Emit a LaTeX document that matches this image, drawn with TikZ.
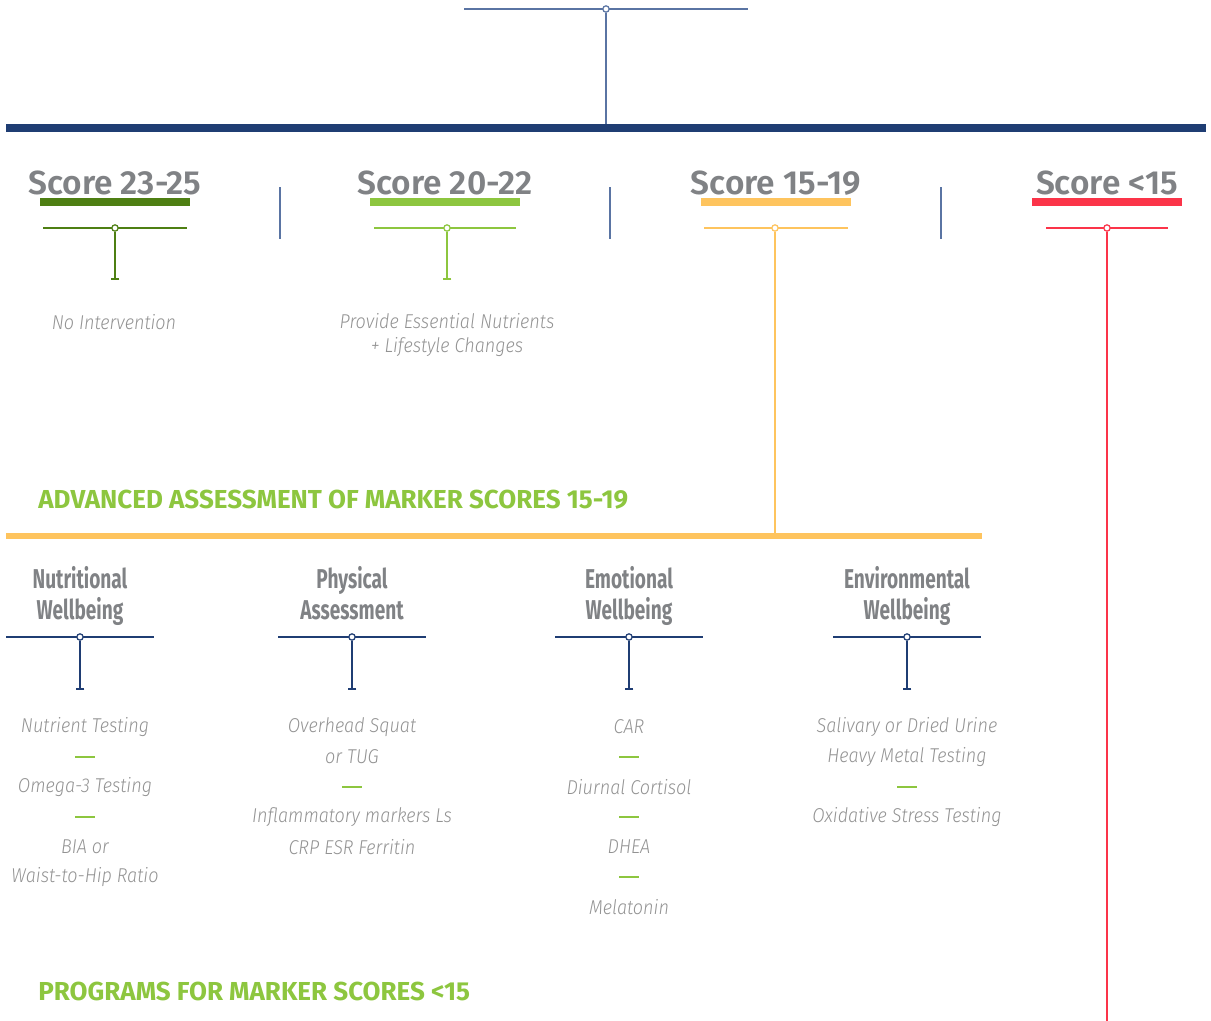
\documentclass[tikz,border=0pt]{standalone}
\usepackage{fontspec}
\setmainfont{Fira Sans}
\newfontfamily\headfont{Fira Sans SemiBold}
\newfontfamily\condfont[FakeStretch=0.7]{Fira Sans}
\newfontfamily\capsfont{Fira Sans}
\newfontfamily\itemfont[FakeStretch=0.9]{Fira Sans Light Italic}
\usetikzlibrary{arrows.meta,positioning}
\definecolor{navy}{HTML}{1F3D73}
\definecolor{slateblue}{HTML}{5A74A3}
\definecolor{headgray}{HTML}{808285}
\definecolor{itemgray}{HTML}{939393}
\definecolor{darkgreen}{HTML}{4E7F13}
\definecolor{lightgreen}{HTML}{8DC63F}
\definecolor{sunyellow}{HTML}{FEC45E}
\definecolor{alertred}{HTML}{FB3449}

\begin{document}
\begin{tikzpicture}[x=0.02cm, y=-0.02cm,
  dot/.style={circle, draw, fill=white, line width=0.7pt, inner sep=0pt, minimum size=3.6pt},
  stem/.style={line width=0.9pt, -{Bar[width=5pt, line width=0.9pt]}},
  score/.style={font=\headfont\fontsize{19}{22}\selectfont, text=headgray, inner sep=0pt},
  cathead/.style={font=\condfont\bfseries\fontsize{15.5}{17.5}\selectfont, text=headgray, align=center, inner sep=0pt, anchor=north},
  item/.style={font=\itemfont\fontsize{11.4}{14}\selectfont, text=itemgray, align=center, inner sep=0pt},
  section/.style={font=\capsfont\bfseries\fontsize{14.8}{17}\selectfont, text=lightgreen, anchor=west, inner sep=0pt},
  sepline/.style={lightgreen, line width=0.8pt}
]
\useasboundingbox (0,0) rectangle (1211,1021);

% top connector and main bar
\draw[slateblue, line width=0.85pt] (464,9) -- (748,9);
\node[dot, draw=slateblue] (top) at (606,9) {};
\coordinate (bartop) at (606,125);
\draw[slateblue, line width=0.9pt] (top) -- (bartop);
\draw[navy, line width=4pt] (6,128) -- (1206,128);

% score headers
\foreach \x/\w/\c/\t/\n in {115/72/darkgreen/23-25/a, 445/71/lightgreen/20-22/b, 776/72/sunyellow/15-19/c, 1107/61/alertred/<15/d} {
  \node[score] (s\n) at (\x,183) {Score \t};
  \draw[\c, line width=5pt] (\x-75,202) -- (\x+75,202);
  \draw[\c, line width=1.7pt] (\x-\w,228) -- (\x+\w,228);
}
\foreach \x in {280,610,941}
  \draw[slateblue, line width=0.8pt] (\x,187) -- (\x,239);

\node[dot, draw=darkgreen] (da) at (115,228) {};
\node[dot, draw=lightgreen] (db) at (447,228) {};
\node[dot, draw=sunyellow] (dc) at (775,228) {};
\node[dot, draw=alertred] (dd) at (1107,228) {};
\coordinate (ea) at (115,280);
\coordinate (eb) at (447,280);
\coordinate (ec) at (775,533);
\coordinate (ed) at (1107,1021);
\draw[stem, darkgreen] (da) -- (ea);
\draw[stem, lightgreen] (db) -- (eb);
\draw[sunyellow, line width=0.9pt] (dc) -- (ec);
\draw[alertred, line width=0.9pt] (dd) -- (ed);

\node[item] (na) at (114,322) {No Intervention};
\node[item] (nb) at (447,335) {Provide Essential Nutrients\\+ Lifestyle Changes};

% advanced assessment
\node[section] (adv) at (38,500) {ADVANCED ASSESSMENT OF MARKER SCORES 15-19};
\draw[sunyellow, line width=3.4pt] (6,536) -- (982,536);

\foreach \x/\t/\n in {80/Nutritional\\Wellbeing/1, 352/Physical\\Assessment/2, 629/Emotional\\Wellbeing/3, 907/Environmental\\Wellbeing/4} {
  \node[cathead] (c\n) at (\x,566) {\t};
  \draw[navy, line width=1.7pt] (\x-74,637) -- (\x+74,637);
  \node[dot, draw=navy] (k\n) at (\x,637) {};
  \coordinate (f\n) at (\x,690);
  \draw[stem, navy] (k\n) -- (f\n);
}

% test lists
\foreach \y/\t [count=\i] in {727/Nutrient Testing, 787/Omega-3 Testing, 847/BIA or, 877/Waist-to-Hip Ratio}
  \node[item] (p\i) at (85,\y) {\t};
\foreach \y in {757,817} \draw[sepline] (75,\y) -- (95,\y);

\foreach \y/\t [count=\i] in {727/Overhead Squat, 757/or TUG, 817/Inflammatory markers Ls, 847/CRP ESR Ferritin}
  \node[item] (q\i) at (352,\y) {\t};
\draw[sepline] (342,787) -- (362,787);

\foreach \y/\t [count=\i] in {727/CAR, 787/Diurnal Cortisol, 847/DHEA, 907/Melatonin}
  \node[item] (r\i) at (629,\y) {\t};
\foreach \y in {757,817,877} \draw[sepline] (619,\y) -- (639,\y);

\foreach \y/\t [count=\i] in {727/Salivary or Dried Urine, 757/Heavy Metal Testing, 817/Oxidative Stress Testing}
  \node[item] (t\i) at (907,\y) {\t};
\draw[sepline] (897,787) -- (917,787);

\node[section] (prog) at (38,991) {PROGRAMS FOR MARKER SCORES <15};
\end{tikzpicture}
\end{document}
